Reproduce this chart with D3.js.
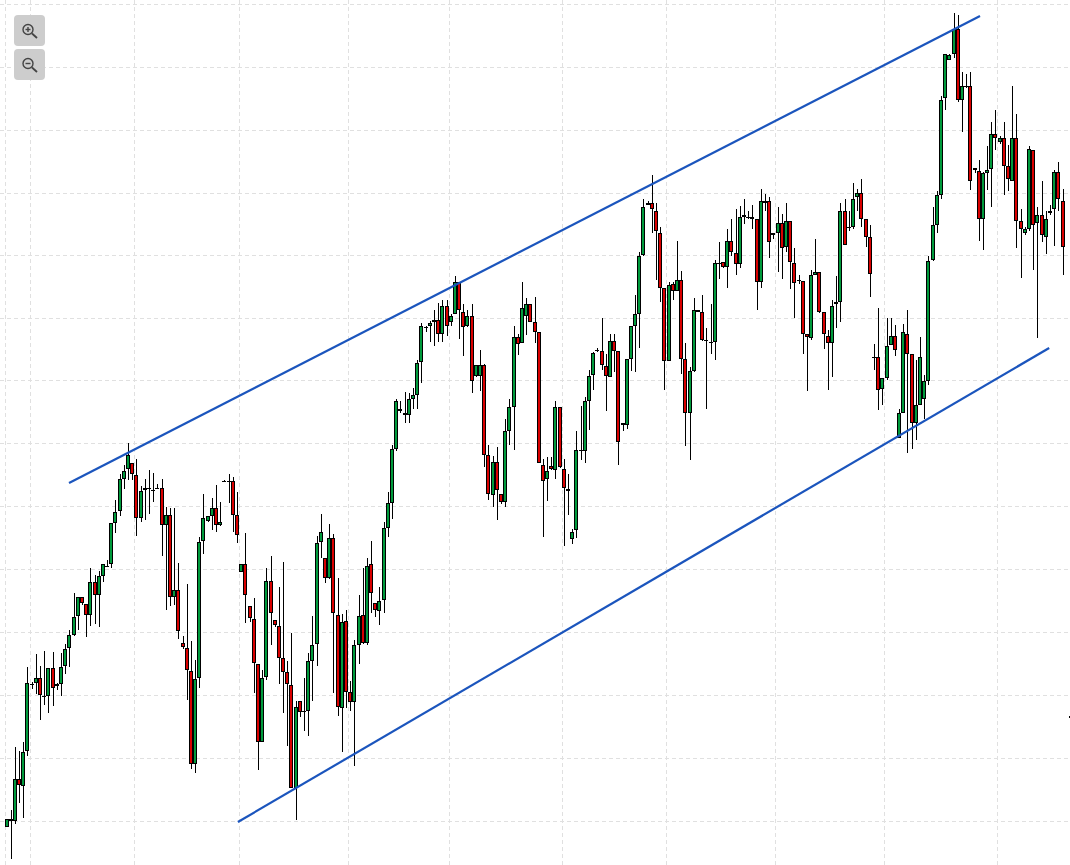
<!DOCTYPE html>
<html>
<head>
<meta charset="utf-8">
<script src="https://cdn.jsdelivr.net/npm/d3@7/dist/d3.min.js"></script>
<style>html,body{margin:0;padding:0;background:#fff;overflow:hidden}svg{display:block}</style>
</head>
<body>
<div id="chart"></div>
<script>
const opens = [38.5,46.5,44.5,86.5,79.5,114.5,181.5,182.5,187.5,169.5,
169.5,197.5,179.5,181.5,199.5,217.5,230.5,249.5,268.5,261.5,
250.5,283.5,270.5,288.5,299.5,300.5,342.5,354.5,386.5,396.5,
402.5,390.5,347.5,375.5,376.5,375.5,377.5,377.5,340.5,350.5,
268.5,275.5,222.5,217.5,194.5,101.5,187.5,324.5,344.5,349.5,
357.5,340.5,384.5,384.5,384.5,350.5,293.5,300.5,259.5,246.5,
201.5,123.5,188.5,284.5,245.5,239.5,207,193.5,180.5,77,
164.5,154,154.5,204.5,221.5,323,307,287,327,250.5,
157,244.5,173.5,163,219.5,250.5,222,300.5,262.5,254.5,
265.5,337.5,362,416.5,455.5,452,450.5,466.5,469.5,503,
538,538.5,542.5,545.5,531.5,559.5,543,551,583.5,553.5,
538.5,549.5,489.5,489.5,500.5,409.5,370.5,403.5,371.5,363.5,
433.5,458.5,528.5,522.5,549.5,560.5,542.5,533.5,400.5,385.5,
399.5,395.5,457.5,396.5,376.5,326.5,335.5,415.5,413.5,463.5,
490.5,515.5,514.5,499.5,488.5,524.5,514.5,440.5,440.5,506.5,
539.5,550.5,610.5,661.5,662.5,654.5,632.5,577.5,504.5,581.5,
574.5,585.5,506.5,452.5,494.5,554.5,552.5,525.5,523.5,523.5,
602.5,603.5,598.5,624.5,612.5,601.5,649.5,648.5,648.5,645.5,
583.5,663.5,663.5,629.5,631.5,642.5,618.5,643.5,602.5,585.5,
584.5,530.5,527.5,590.5,593.5,553.5,529.5,522.5,560.5,562.5,
654.5,638.5,638.5,667.5,671.5,645.5,627.5,508.5,508.5,476.5,
487.5,520.5,529.5,427.5,452.5,531.5,511.5,442.5,460.5,466.5,
484.5,605.5,640.5,670.5,766.5,805.5,811.5,835.5,765.5,779.5,
779.5,697.5,694.5,646.5,691.5,696.5,730.5,722.5,726.5,699.5,
684.5,726.5,644.5,631.5,636.5,715.5,641.5,650.5,628.5,652.5,
655.5,693.5,664.5,null,149];

const highs = [46.5,55.5,118.5,114.5,122.5,198.5,183.5,211.5,199.5,214.5,
197.5,213.5,182.5,212.5,221,235.5,272.5,268.5,268.5,261.5,
297.5,290,294.5,300.5,304.5,342.5,365.5,391.5,400.5,421.5,
402.5,406.5,379.5,386.5,395.5,392.5,381.5,385.5,358.5,357.5,
356.5,302.5,229,281.5,224.5,205.5,328.5,371.5,349.5,367.5,
380.5,363.5,385,391.5,388.5,372.5,300.5,332.5,259.5,267.5,
201.5,195.5,297.5,309.5,245.5,278,303.5,204.5,232,164.5,
164.5,187,212,249.5,329,351.5,307,341.5,331.5,287,
251.5,255.5,184.5,225.5,270.5,297,307.5,324.5,262.5,278,
343,372.5,420.5,465.5,464.5,473.5,472,477,505.5,542,
538.6,544,555.5,562,565.5,564.5,551.5,589.5,583.5,561,
555,560.5,500.5,515.5,501,420,409,418.5,371.5,446.5,
465.5,539,531.5,583.5,566.5,560.5,568.5,533.5,405.5,408.5,
408,463.5,457.5,406.5,391.5,336.5,433.5,459,468.5,495,
513,517.5,546.5,511.5,531.5,531.5,514.5,441.5,506.5,539,
570,613.5,666.5,663.5,690.5,661.5,637.5,577.5,583.5,583.5,
624.5,594,522.5,498.5,567.5,555,570.5,536.5,561.5,605.5,
623.5,603.5,636.5,646.5,655.5,659,665.5,653.5,660,645.5,
675.5,671,668.5,631.7,658.5,651,661.5,643.5,617.5,590.5,
584.5,530.7,595,625.5,593.5,553.5,535,565,589.5,662.5,
666.5,653.5,682.5,676.5,686.5,645.5,640,521.5,557.5,487.5,
546.5,547.5,540,456.5,540.5,555.5,511.5,505,528.5,490,
609,657.5,673.5,768.5,811.5,811,852.5,849.5,792.5,791.5,
793.5,697.5,705,693.5,719,742.5,754.5,728.5,742.5,720.5,
779.5,750.5,655.5,637.5,719.5,715.5,657.5,684.5,653.5,660,
695.5,703.5,676.5,null,149.5];

const lows = [38.5,6.5,41.5,62.5,47.5,109,176.5,171.5,145,160.5,
152.5,159.5,175,169.5,191.5,198.5,229,235,260,228.5,
239.5,241.5,238.5,283.5,298,296.5,332.5,349.5,376.5,385,
385,329,343.5,345.5,351.5,363.5,375.7,308.5,255.5,259,
260.5,226.5,216.5,165,96.5,92.5,177.5,311,343.5,335.5,
333.5,339,383.5,362.5,333.5,322.5,292.5,242.5,243,172.5,
95,123,185,220,238,181.5,152,119,77,45,
148.5,134.5,129.5,164.5,199.5,307.5,282.5,286,172,149.5,
113,157.5,154.5,99.5,201,221,220,252,248.5,240.5,
252,328,346,414.5,452,441.5,442,455.5,455.5,482,
533.5,523,519.5,523,523.5,529.5,539.5,551,526,509.5,
538,472,488.5,474.5,398.5,365,358.5,345,361,358.5,
420,415.5,510.5,522.5,530,543,522.5,401.5,328.5,364,
395.5,386.5,397,319,350.5,321.5,327.5,405,402.5,435,
475.5,513.5,495.5,453.5,488,493,400,434.5,435.5,494,
493.5,517.5,609,660,632.5,585.5,562.5,475,504,565.5,
574,491.5,419.5,405,493.5,552.5,524.5,456.5,511.5,505.5,
586.5,597.5,577.5,609,590.5,597.5,641,646.5,635.5,555.5,
577.5,653.5,607.5,625.5,593.5,586.5,613.5,576.5,546.5,581.5,
511.5,474.5,525,590,552,516.5,475.5,488.5,536.5,543.5,
620,633.5,635.5,653.5,637.5,618.5,568.5,495,455,460,
485,520,509,427,451.5,412.5,416.5,425,460,446.5,
480,604.5,631.5,666.5,755,805.5,806.5,763,732.5,777.5,
675,691.5,624.5,615.5,675,657.5,715,721.5,670,673.5,
684,617.5,587.5,629.5,633.5,595,527.5,623.5,611.5,650.5,
619,654,590.5,null,146.5];

const closes = [46.5,44.5,86.5,80.5,113.5,182.5,180.5,187.5,170.5,168.5,
197.5,177.5,181.5,198.5,216.5,230.5,248.5,268.5,262.5,250.5,
283.5,270.5,288.5,300.5,298.5,342.5,353.5,386.5,394.5,409.5,
391.5,347.5,374.5,377.5,377.5,374.5,376.5,340.5,350.5,268.5,
275.5,234.5,218.5,195.5,101.5,186.5,323.5,347.5,349.5,357.5,
340.5,343.5,383.5,383.5,350.5,330.5,300.5,270.5,247.5,202.5,
123.5,187.5,284.5,252,240.5,207,193,181.5,77,158.5,
153,153,204.5,220.5,322.5,333.5,287,327,252,158,
243.5,173,163.5,219.5,249.5,222.5,299.5,272,255.5,264.5,
337,362,416.5,464.5,453.5,449.5,466.5,469.5,502.5,538.5,
537,542,545.5,530.5,559.5,538.5,549.5,583.5,554.5,538,
549.5,484.5,500.5,500.5,410,371.5,403.5,375.5,363.5,433.5,
457.5,528.5,521.5,557.5,560.5,543.5,533.5,401.5,384.5,393.5,
395.7,457.5,397.5,377.5,374.5,333.5,415.5,413.5,463.5,489.5,
512.5,514.5,500.5,489.5,524.5,514.5,423.5,441.5,506.5,538.5,
550.5,609.5,657.5,660.5,655.5,633.5,577.5,504.5,580.5,574.5,
585.5,506.5,451.5,494.5,554.5,553.5,525.5,524.5,522.5,602.5,
601.5,598.5,624.5,613.5,601.5,648.5,647.5,647.5,645.5,583.5,
663.5,662.5,623.5,631.5,642.5,617.5,643.5,603.5,582.5,584.5,
530.5,528.5,590.5,593.5,552.5,530.5,522.5,559.5,562.5,653.5,
620.5,637.5,666.5,671.5,646.5,627.5,591.5,507.5,475.5,487.5,
519.5,529.5,515.5,451.5,532.5,511.5,442.5,460.5,508.5,484.5,
604.5,640.5,669.5,765.5,811.5,810.5,835.5,765.5,778.5,778.5,
684.5,695.5,646.5,691.5,695.5,730.5,727.5,726.5,699.5,685.5,
726.5,644.5,635.5,635.5,716.5,640.5,650.5,629.5,645.5,654.5,
693.5,665.5,618.5,null,147];

const gridPrices = [860.5,797.5,734.5,672,609.5,547,484.5,421.5,359,296,233,170,107,44];
const gridBars = [-0.36,5.61,30.43,55.37,81.5,105.6,132.5,157.4,183.3,209.3,236.3];
const upperChannelBars = [14.8,232.2];
const upperChannelPrices = [382,849];
const lowerChannelBars = [55.1,248.7];
const lowerChannelPrices = [43,517];

const width = 1070, height = 865;
const UP = "#009a3c", DOWN = "#d90000", WICK = "#000";

const x = d3.scaleLinear().domain([0, 252]).range([7, 1063]);
const y = d3.scaleLinear().domain([0, 865]).range([865, 0]);

const svg = d3.select("#chart").append("svg").attr("width", width).attr("height", height);
svg.append("rect").attr("width", width).attr("height", height).attr("fill", "#fff");

const grid = svg.append("g").attr("stroke", "#e0e0e0").attr("stroke-width", 1)
  .attr("stroke-dasharray", "4,3").attr("shape-rendering", "crispEdges");
grid.selectAll(".h").data(gridPrices).join("line").attr("class", "h")
  .attr("x1", 0).attr("x2", width)
  .attr("y1", d => Math.floor(y(d)) + 0.5).attr("y2", d => Math.floor(y(d)) + 0.5);
grid.selectAll(".v").data(gridBars).join("line").attr("class", "v")
  .attr("y1", 0).attr("y2", height)
  .attr("x1", d => Math.floor(x(d)) + 0.5).attr("x2", d => Math.floor(x(d)) + 0.5);

const bars = d3.range(opens.length).filter(i => opens[i] !== null);
const cx = i => Math.floor(x(i));
const candles = svg.append("g").attr("shape-rendering", "crispEdges");

candles.selectAll(".wick").data(bars).join("rect").attr("class", "wick")
  .attr("x", i => cx(i)).attr("width", 1)
  .attr("y", i => Math.round(y(highs[i])))
  .attr("height", i => Math.max(1, Math.round(y(lows[i])) - Math.round(y(highs[i]))))
  .attr("fill", WICK);

const top_ = i => Math.round(y(Math.max(opens[i], closes[i])));
const bot_ = i => Math.round(y(Math.min(opens[i], closes[i])));

candles.selectAll(".outer").data(bars).join("rect").attr("class", "outer")
  .attr("x", i => cx(i) - 2).attr("width", 4)
  .attr("y", top_).attr("height", i => Math.max(1, bot_(i) - top_(i)))
  .attr("fill", "#000");
candles.selectAll(".inner").data(bars.filter(i => bot_(i) - top_(i) > 2)).join("rect").attr("class", "inner")
  .attr("x", i => cx(i) - 1).attr("width", 2)
  .attr("y", i => top_(i) + 1).attr("height", i => bot_(i) - top_(i) - 2)
  .attr("fill", i => closes[i] >= opens[i] ? UP : DOWN);

const channel = d3.line().x(d => x(d[0])).y(d => y(d[1]));
[[upperChannelBars, upperChannelPrices], [lowerChannelBars, lowerChannelPrices]].forEach(([b, p]) => {
  svg.append("path").attr("d", channel(d3.zip(b, p)))
    .attr("fill", "none").attr("stroke", "#1b55bd").attr("stroke-width", 2.2);
});

function zoomButton(top, plus) {
  const g = svg.append("g").attr("transform", `translate(14,${top})`);
  g.append("rect").attr("width", 31).attr("height", 31).attr("rx", 4).attr("fill", "#cdcdcd");
  const ic = g.append("g").attr("fill", "none").attr("stroke", "#444");
  ic.append("circle").attr("cx", 14).attr("cy", 14.5).attr("r", 5).attr("stroke-width", 1.4);
  ic.append("line").attr("x1", 18).attr("y1", 18.5).attr("x2", 23).attr("y2", 23).attr("stroke-width", 1.8);
  ic.append("line").attr("x1", 11.5).attr("x2", 16.5).attr("y1", 14.5).attr("y2", 14.5).attr("stroke-width", 1.4);
  if (plus) ic.append("line").attr("x1", 14).attr("x2", 14).attr("y1", 12).attr("y2", 17).attr("stroke-width", 1.4);
}
zoomButton(15, true);
zoomButton(49, false);
</script>
</body>
</html>
